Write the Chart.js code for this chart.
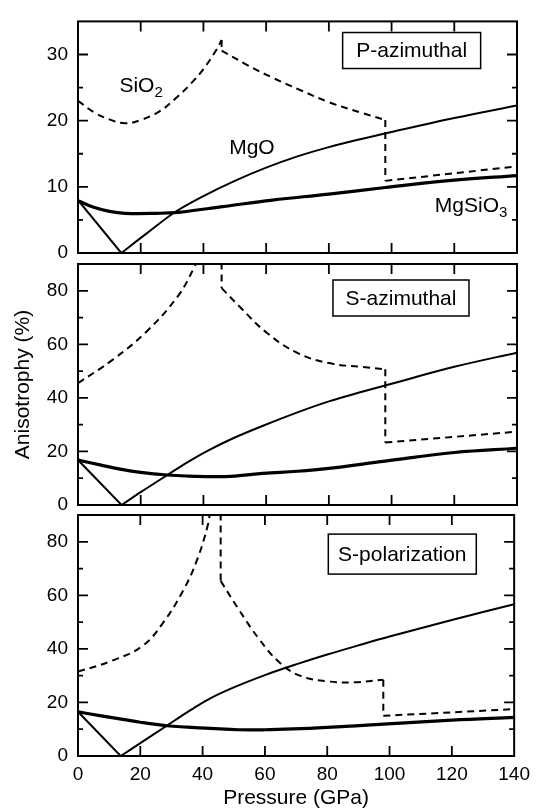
<!DOCTYPE html>
<html>
<head>
<meta charset="utf-8">
<script src="https://cdn.jsdelivr.net/npm/chart.js@4.4.0/dist/chart.umd.min.js"></script>
<style>
  html, body { margin: 0; padding: 0; background: #fff; }
  #wrap { position: relative; width: 537px; height: 811px; }
  #wrap canvas { position: absolute; left: 0; top: 0; }
</style>
</head>
<body>
<div id="wrap">
  <canvas id="pAzimuthal" width="537" height="811"></canvas>
  <canvas id="sAzimuthal" width="537" height="811"></canvas>
  <canvas id="sPolarization" width="537" height="811"></canvas>
</div>
<script>
// P-azimuthal anisotropy (%) vs pressure (GPa)
const pAzMgOP = [0, 13.8, 22, 31, 40, 50, 60, 70, 80, 90, 100, 120, 140];
const pAzMgO  = [8.0, 0, 3.0, 6.2, 8.6, 10.9, 12.9, 14.6, 16.0, 17.2, 18.3, 20.4, 22.3];
const pAzMgSiO3P = [0, 5, 10, 15, 25, 32, 46, 62, 80, 98, 120, 140];
const pAzMgSiO3  = [7.9, 6.9, 6.3, 6.0, 6.0, 6.15, 7.0, 8.0, 8.9, 9.9, 11.0, 11.7];
const pAzSiO2P = [0, 5, 10, 15, 20, 26, 31, 36, 40, 44, 45.8, 45.8, 54, 62, 71, 80, 91, 98, 98, 140];
const pAzSiO2  = [23.0, 21.3, 20.2, 19.6, 20.1, 21.4, 23.3, 25.6, 27.8, 30.6, 32.2, 30.6, 28.4, 26.5, 24.6, 22.8, 21.1, 20.1, 10.9, 13.1];

// S-azimuthal
const sAzMgOP = [0, 13.9, 20, 28.5, 35, 41.6, 50, 59, 70, 80, 90, 100, 120, 140];
const sAzMgO  = [16.8, 0, 4.8, 11.2, 16.0, 20.4, 25.2, 29.6, 34.6, 38.7, 42.1, 45.3, 51.6, 56.9];
const sAzMgSiO3P = [0, 7, 13.9, 20, 28.5, 35, 42.5, 50, 59, 70, 80, 98, 120, 140];
const sAzMgSiO3  = [16.8, 15.0, 13.3, 12.2, 11.2, 10.8, 10.6, 10.8, 11.8, 12.6, 13.7, 16.4, 19.6, 21.2];
const sAzSiO2P = [0, 11, 21.9, 31.8, 37.2, 38.2, 42, 45.8, 45.8, 51.5, 60.3, 70.1, 80, 90.9, 98, 98, 140];
const sAzSiO2  = [45.5, 54.2, 64.8, 77.9, 89, 92, null, 95, 81, 74.1, 64.2, 56.7, 53.0, 51.5, 50.7, 23.3, 27.4];

// S-polarization
const sPolMgOP = [0, 13.7, 20, 28.5, 35, 41.6, 50, 60, 70, 80, 90, 100, 120, 140];
const sPolMgO  = [16.5, 0, 4.8, 11.3, 16.3, 21.0, 25.6, 30.2, 34.2, 37.9, 41.3, 44.6, 50.8, 56.7];
const sPolMgSiO3P = [0, 7, 13.9, 20, 28.5, 35, 42.7, 51.5, 60, 69, 80, 98, 120, 140];
const sPolMgSiO3  = [16.5, 15.1, 13.8, 12.6, 11.3, 10.8, 10.3, 9.8, 9.8, 10.1, 10.7, 11.9, 13.4, 14.4];
const sPolSiO2P = [0, 11, 20.8, 27.4, 34, 38.3, 41.6, 42.5, 44, 45.8, 45.8, 51.5, 58.1, 64.6, 71.2, 80, 88.7, 98, 98, 140];
const sPolSiO2  = [31.5, 35.6, 41.2, 49.9, 62.3, 73.5, 85.9, 92, null, 95, 65.4, 54.9, 43.7, 35.0, 30.0, 27.9, 27.5, 28.5, 15.0, 17.5];

const FONT = '"Liberation Sans", Arial, Helvetica, sans-serif';
Chart.defaults.font.family = FONT;
Chart.defaults.color = '#000';

// split a curve into smooth runs; vertical jumps and gaps become their own pieces
function pieces(xs, ys) {
  const out = [];
  let run = [];
  const flush = () => { if (run.length > 1) out.push(run); run = []; };
  for (let i = 0; i < xs.length; i++) {
    if (ys[i] === null) { flush(); continue; }
    const p = { x: xs[i], y: ys[i] };
    const last = run[run.length - 1];
    if (last && last.x === p.x) {
      flush();
      out.push([last, p]);
    }
    run.push(p);
  }
  flush();
  return out;
}

// MgO has a sharp minimum: straight branch down to it, smooth branch after
function vShape(xs, ys) {
  const k = ys.indexOf(Math.min(...ys));
  const p = xs.map((x, i) => ({ x: x, y: ys[i] }));
  return [p.slice(0, k + 1), p.slice(k)];
}

// frame around the plot area plus inward tick marks on all four sides
const frameTicks = {
  id: 'frameTicks',
  afterDraw(chart) {
    const { ctx, chartArea: a, scales: { x, y } } = chart;
    ctx.save();
    ctx.strokeStyle = '#000';
    ctx.lineWidth = 1.8;
    ctx.beginPath();
    x.ticks.forEach(t => {
      if (t.value <= x.min || t.value >= x.max) return;
      const px = x.getPixelForValue(t.value);
      ctx.moveTo(px, a.top); ctx.lineTo(px, a.top + 10);
      ctx.moveTo(px, a.bottom); ctx.lineTo(px, a.bottom - 10);
    });
    y.ticks.forEach(t => {
      if (t.value <= y.min || t.value >= y.max) return;
      const py = y.getPixelForValue(t.value);
      const len = t.label !== '' ? 10 : 5;
      ctx.moveTo(a.left, py); ctx.lineTo(a.left + len, py);
      ctx.moveTo(a.right, py); ctx.lineTo(a.right - len, py);
    });
    ctx.stroke();
    ctx.lineWidth = 2;
    ctx.strokeRect(a.left, a.top, a.right - a.left, a.bottom - a.top);
    ctx.restore();
  }
};

// curve names and the boxed panel title
const notes = {
  id: 'notes',
  afterDatasetsDraw(chart, args, opts) {
    const { ctx, scales: { x, y } } = chart;
    ctx.save();
    ctx.fillStyle = '#000';
    (opts.labels || []).forEach(l => {
      const px = x.getPixelForValue(l.x), py = y.getPixelForValue(l.y);
      ctx.font = '21px ' + FONT;
      ctx.textAlign = 'left';
      ctx.textBaseline = 'alphabetic';
      ctx.fillText(l.text, px, py);
      if (l.sub) {
        const w = ctx.measureText(l.text).width;
        ctx.font = '15px ' + FONT;
        ctx.fillText(l.sub, px + w, py + 5);
      }
    });
    const b = opts.box;
    if (b) {
      const cx = x.getPixelForValue(b.x), cy = y.getPixelForValue(b.y);
      ctx.fillStyle = '#fff';
      ctx.fillRect(cx - b.w / 2, cy - b.h / 2, b.w, b.h);
      ctx.strokeStyle = '#000';
      ctx.lineWidth = 1.5;
      ctx.strokeRect(cx - b.w / 2, cy - b.h / 2, b.w, b.h);
      ctx.fillStyle = '#000';
      ctx.font = '21px ' + FONT;
      ctx.textAlign = 'center';
      ctx.textBaseline = 'middle';
      ctx.fillText(b.text, cx, cy + 1);
    }
    ctx.restore();
  }
};

function panel(id, cfg) {
  const showX = !!cfg.showX;
  const [down, up] = vShape(cfg.mgoP, cfg.mgo);
  const datasets = [
    { label: 'MgO', data: down, borderColor: '#000', borderWidth: 2, tension: 0 },
    { label: 'MgO', data: up, borderColor: '#000', borderWidth: 2, tension: 0.35 },
    { label: 'MgSiO3', data: cfg.mgsio3P.map((x, i) => ({ x: x, y: cfg.mgsio3[i] })),
      borderColor: '#000', borderWidth: 3.2, tension: 0.4 }
  ];
  pieces(cfg.sio2P, cfg.sio2).forEach(seg => {
    datasets.push({ label: 'SiO2', data: seg, borderColor: '#000', borderWidth: 2,
      borderDash: [7, 5], tension: seg.length > 2 ? 0.4 : 0 });
  });

  return new Chart(document.getElementById(id), {
    type: 'line',
    data: { datasets: datasets },
    options: {
      responsive: false,
      animation: false,
      elements: { point: { radius: 0 } },
      layout: { padding: cfg.padding },
      plugins: {
        legend: { display: false },
        tooltip: { enabled: false },
        notes: { labels: cfg.labels, box: cfg.box }
      },
      scales: {
        x: {
          type: 'linear', min: 0, max: 140,
          grid: { display: false, drawTicks: false },
          border: { display: false },
          ticks: { display: showX, stepSize: 20, padding: 7, autoSkip: false, maxRotation: 0, font: { size: 19 } },
          title: { display: showX, text: 'Pressure (GPa)', font: { size: 21 }, padding: 0 },
          afterFit: s => { s.height = showX ? 55 : 0; }
        },
        y: {
          min: 0, max: cfg.yMax,
          grid: { display: false, drawTicks: false },
          border: { display: false },
          ticks: {
            stepSize: cfg.minor, autoSkip: false, padding: 10, font: { size: 19 },
            callback: v => (v % cfg.major === 0 ? v : '')
          },
          title: { display: !!cfg.yTitle, text: cfg.yTitle || '', font: { size: 21 }, padding: { top: 11, bottom: 0 } },
          afterFit: s => { s.width = 78; }
        }
      }
    },
    plugins: [notes, frameTicks]
  });
}

panel('pAzimuthal', {
  mgoP: pAzMgOP, mgo: pAzMgO,
  mgsio3P: pAzMgSiO3P, mgsio3: pAzMgSiO3,
  sio2P: pAzSiO2P, sio2: pAzSiO2,
  yMax: 35, minor: 5, major: 10,
  padding: { top: 12, bottom: 558, left: 0, right: 20 },
  labels: [
    { text: 'SiO', sub: '2', x: 13.2, y: 24.4 },
    { text: 'MgO', x: 48.2, y: 15.0 },
    { text: 'MgSiO', sub: '3', x: 113.8, y: 6.2 }
  ],
  box: { text: 'P-azimuthal', x: 106.4, y: 30.6, w: 138, h: 36 }
});

panel('sAzimuthal', {
  mgoP: sAzMgOP, mgo: sAzMgO,
  mgsio3P: sAzMgSiO3P, mgsio3: sAzMgSiO3,
  sio2P: sAzSiO2P, sio2: sAzSiO2,
  yMax: 90, minor: 10, major: 20,
  yTitle: 'Anisotrophy (%)',
  padding: { top: 264, bottom: 306, left: 0, right: 20 },
  box: { text: 'S-azimuthal', x: 103.0, y: 77.3, w: 136, h: 36 }
});

panel('sPolarization', {
  mgoP: sPolMgOP, mgo: sPolMgO,
  mgsio3P: sPolMgSiO3P, mgsio3: sPolMgSiO3,
  sio2P: sPolSiO2P, sio2: sPolSiO2,
  yMax: 90, minor: 10, major: 20,
  showX: true,
  padding: { top: 515, bottom: 0, left: 0, right: 20 },
  box: { text: 'S-polarization', x: 104.1, y: 75.4, w: 148, h: 40 }
});
</script>
</body>
</html>
